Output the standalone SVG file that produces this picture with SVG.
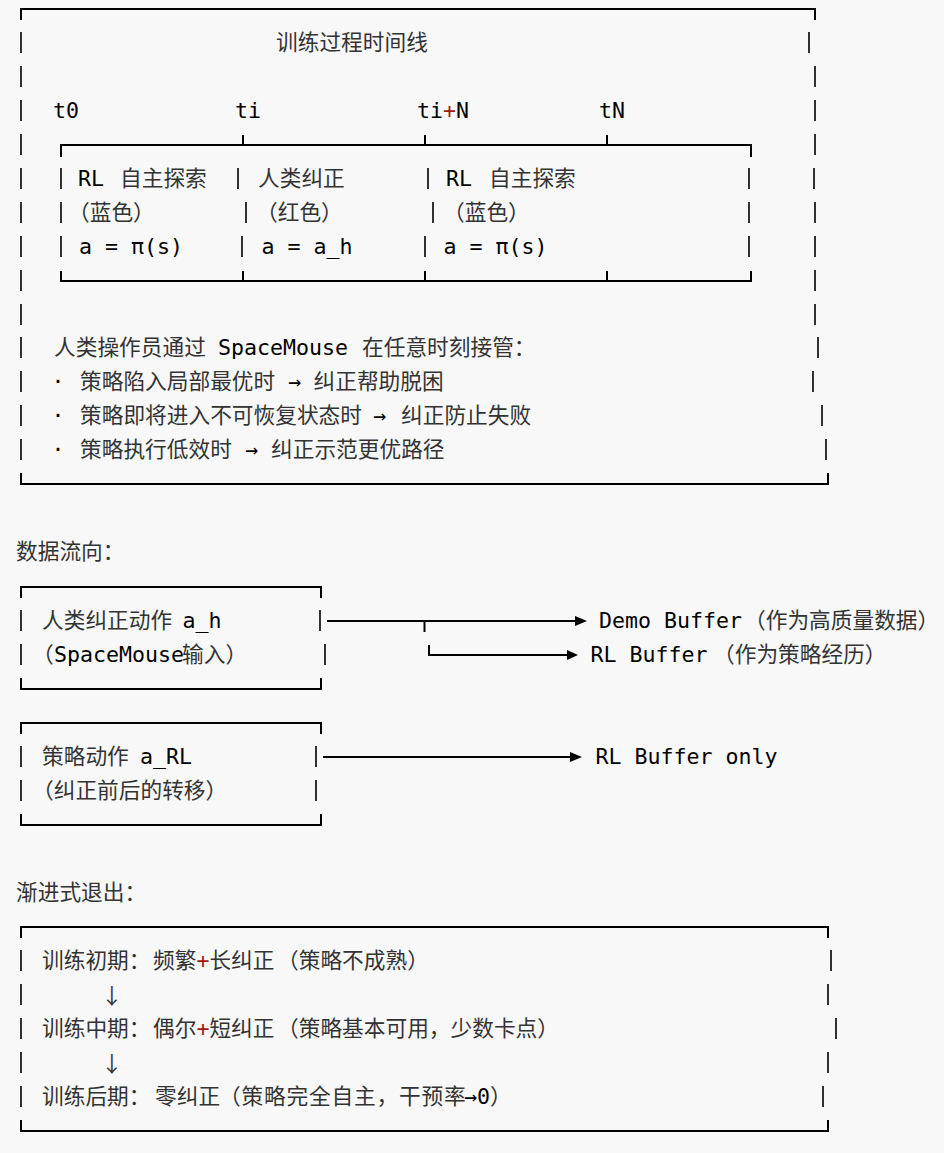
<svg xmlns="http://www.w3.org/2000/svg" width="944" height="1153" viewBox="0 0 944 1153">
<style>
.ln{stroke:#000;stroke-width:2;fill:none}
.vb{stroke:#000;stroke-width:1.6;fill:none}
.m{font-family:"DejaVu Sans Mono","Liberation Mono",monospace;font-size:21.6px;fill:#000}
.c{font-family:"Noto Sans CJK SC","Noto Sans",sans-serif;font-size:21.7px;fill:#333}
.red{fill:#a31515}
.ah{fill:#000}
.ls{letter-spacing:0.8px}
</style>
<rect width="944" height="1153" fill="#f8f8f8"/>

<g id="timeline-box">
<path class="ln" d="M21 20V9H815V20M21 473V484H828V473"/>
<path class="vb" d="M21 32v21M21 66v21M21 100v21M21 134v21M21 168v21M21 202v21M21 236v21M21 270v21M21 304v21M21 337v21M21 371v21M21 405v21M21 439v21"/>
<path class="vb" d="M809 32v21M815 66v21M815 100v21M815 134v21M814 168v21M815 202v21M815 236v21M815 270v21M815 304v21M818 337v21M813 371v21M822 405v21M826 439v21"/>
<text class="c" x="276" y="50">训练过程时间线</text>
<text class="m" x="53" y="118">t0</text>
<text class="m" x="235" y="118">ti</text>
<text class="m" x="417" y="118">ti<tspan class="red">+</tspan>N</text>
<text class="m" x="599" y="118">tN</text>
<text class="c" x="54" y="355">人类操作员通过</text>
<text class="m" x="218" y="355">SpaceMouse</text>
<text class="c" x="362" y="355">在任意时刻接管：</text>
<text class="m" x="51.5" y="389">·</text>
<text class="c" x="80" y="389">策略陷入局部最优时</text>
<text class="m" x="288" y="389">→</text>
<text class="c" x="313.5" y="389">纠正帮助脱困</text>
<text class="m" x="51.5" y="423">·</text>
<text class="c" x="80" y="423">策略即将进入不可恢复状态时</text>
<text class="m" x="373" y="423">→</text>
<text class="c" x="401" y="423">纠正防止失败</text>
<text class="m" x="51.5" y="457">·</text>
<text class="c" x="80" y="457">策略执行低效时</text>
<text class="m" x="245" y="457">→</text>
<text class="c" x="271" y="457">纠正示范更优路径</text>
</g>

<g id="timeline-segments">
<path class="ln" d="M61 157V145H751V157M243 135V145M425 135V145M607 135V145"/>
<path class="ln" d="M61 271V281H751V271M243 271V281M425 271V281M607 271V281"/>
<path class="vb" d="M61 168v21M238 168v21M428 168v21M749 168v21M61 202v21M246 202v21M433 202v21M749 202v21M61 236v21M242 236v21M425 236v21M749 236v21"/>
<text class="m" x="78" y="186">RL</text>
<text class="c" x="120" y="186">自主探索</text>
<text class="c" x="258" y="186">人类纠正</text>
<text class="m" x="446" y="186">RL</text>
<text class="c" x="489" y="186">自主探索</text>
<text class="c" x="68" y="220">（蓝色）</text>
<text class="c" x="256" y="220">（红色）</text>
<text class="c" x="443" y="220">（蓝色）</text>
<text class="m" x="79" y="254">a = π(s)</text>
<text class="m" x="261.5" y="254">a = a_h</text>
<text class="m" x="443.5" y="254">a = π(s)</text>
</g>

<g id="heading-dataflow">
<text class="c" x="16" y="559">数据流向：</text>
</g>

<g id="human-action">
<path class="ln" d="M21 598V587H321V598M21 678V689H321V678"/>
<path class="vb" d="M21 610v21M320 610v21M21 644v21M325 644v21"/>
<text class="c" x="42" y="628">人类纠正动作</text>
<text class="m" x="182.5" y="628">a_h</text>
<text class="c" x="32" y="662">（</text>
<text class="m" x="54" y="662">SpaceMouse</text>
<text class="c" x="182" y="662">输入）</text>
</g>

<g id="policy-action">
<path class="ln" d="M21 734V723H321V734M21 814V825H321V814"/>
<path class="vb" d="M21 746v21M316 746v21M21 780v21M316 780v21"/>
<text class="c" x="42" y="764">策略动作</text>
<text class="m" x="140" y="764">a_RL</text>
<text class="c" x="32" y="798">（纠正前后的转移）</text>
</g>

<g id="demo-buffer">
<text class="m" x="599" y="628">Demo Buffer</text>
<text class="c" x="744" y="628">（作为高质量数据）</text>
</g>
<g id="rl-buffer">
<text class="m" x="590.5" y="662">RL Buffer</text>
<text class="c" x="713" y="662">（作为策略经历）</text>
</g>
<g id="rl-buffer-only">
<text class="m" x="595.5" y="764">RL Buffer only</text>
</g>

<g id="connectors">
<path class="ln" d="M327 621H576M424.5 621V632M429 645V655H568M323 757H571"/>
<polygon class="ah" points="575,616 587,621 575,626"/>
<polygon class="ah" points="567,650 578,655 567,660"/>
<polygon class="ah" points="570,752 582,757 570,762"/>
</g>

<g id="heading-exit">
<text class="c" x="16" y="900">渐进式退出：</text>
</g>

<g id="exit-box">
<path class="ln" d="M21 938V927H828V938M21 1120V1131H828V1120"/>
<path class="vb" d="M21 950v21M21 984v21M21 1018v21M21 1052v21M21 1086v21M831 950v21M828 984v21M836 1018v21M828 1052v21M823 1086v21"/>
<text class="c" x="42" y="968">训练初期：</text>
<text class="c" x="153" y="968">频繁<tspan class="m red">+</tspan>长纠正</text>
<text class="c" x="277" y="968">（策略不成熟）</text>
<text class="c" x="101" y="1004">↓</text>
<text class="c" x="42" y="1036">训练中期：</text>
<text class="c" x="153" y="1036">偶尔<tspan class="m red">+</tspan>短纠正</text>
<text class="c" x="277" y="1036">（策略基本可用，少数卡点）</text>
<text class="c" x="101" y="1072">↓</text>
<text class="c" x="42" y="1104">训练后期：</text>
<text class="c" x="155" y="1104">零纠正</text>
<text class="c ls" x="219" y="1104">（策略完全自主，干预率</text>
<text class="m" x="464" y="1104">→0</text>
<text class="c" x="490" y="1104">）</text>
</g>
</svg>
